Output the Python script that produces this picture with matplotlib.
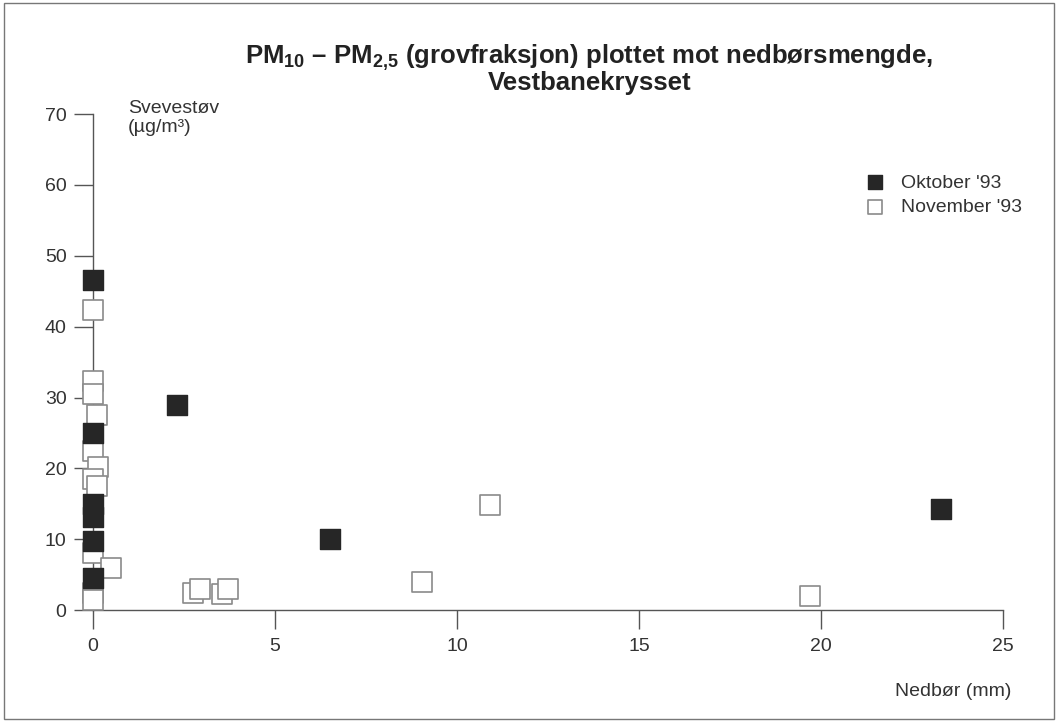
"""Grovfraksjon (PM10 - PM2,5) mot nedbørsmengde, Vestbanekrysset."""

import matplotlib
matplotlib.use("Agg")
import matplotlib.pyplot as plt
from matplotlib.patches import Rectangle

plt.rcParams["font.family"] = ["Liberation Sans", "DejaVu Sans"]
plt.rcParams["mathtext.fontset"] = "custom"
plt.rcParams["mathtext.rm"] = "Liberation Sans"
plt.rcParams["mathtext.bf"] = "Liberation Sans:bold"
plt.rcParams["mathtext.default"] = "regular"

# ---------------------------------------------------------------------------
# Data
# ---------------------------------------------------------------------------
okt_nedbor = [0.0, 2.3, 0.0, 0.0, 0.0, 0.0, 6.5, 0.0, 23.3]
okt_stov   = [46.6, 29.0, 25.0, 15.0, 13.2, 9.8, 10.0, 4.5, 14.2]

nov_nedbor = [0.0, 0.0, 0.0, 0.1, 0.0, 0.15, 0.0, 0.1, 0.0, 0.5, 0.0, 0.0,
              2.75, 2.95, 3.55, 3.7, 9.05, 10.9, 19.7]
nov_stov   = [42.4, 32.3, 30.5, 27.6, 22.5, 20.2, 18.5, 17.5, 8.1, 5.9, 2.4, 1.4,
              2.4, 3.0, 2.3, 3.0, 3.9, 14.8, 2.0]

x_ticks = [0, 5, 10, 15, 20, 25]
y_ticks = [0, 10, 20, 30, 40, 50, 60, 70]

AX_COL = "#555555"
TXT_COL = "#333333"

fig = plt.figure(figsize=(10.58, 7.22), dpi=100)
ax = fig.add_axes([0.0879, 0.155, 0.860, 0.687])

ax.scatter(nov_nedbor, nov_stov, marker="s", s=200, facecolor="white",
           edgecolor="#8a8a8a", linewidth=1.2, zorder=3, label="November '93")
ax.scatter(okt_nedbor, okt_stov, marker="s", s=200, facecolor="#262626",
           edgecolor="#262626", linewidth=1.0, zorder=4, label="Oktober '93")

ax.set_xlim(0, 25)
ax.set_ylim(0, 70)
ax.set_xticks(x_ticks)
ax.set_yticks(y_ticks)
for c in ax.collections:
    c.set_clip_on(False)

for side in ("top", "right"):
    ax.spines[side].set_visible(False)
for side in ("left", "bottom"):
    ax.spines[side].set_color(AX_COL)
    ax.spines[side].set_linewidth(1.0)
ax.tick_params(axis="both", colors=AX_COL, labelcolor=TXT_COL, labelsize=14,
               length=14, width=1.0)
ax.tick_params(axis="x", pad=6)
ax.tick_params(axis="y", pad=5)

# legend: Oktober first
handles, labels = ax.get_legend_handles_labels()
ax.legend(handles[::-1], labels[::-1], loc="upper left",
          bbox_to_anchor=(0.83, 0.895), frameon=False, fontsize=14,
          handletextpad=0.3, labelspacing=0.35, markerscale=0.75,
          labelcolor=TXT_COL, borderaxespad=0)

fig.text(0.121, 0.862, "Svevestøv\n(µg/m³)", fontsize=14, color=TXT_COL,
         va="top", ha="left", linespacing=1.15)
fig.text(0.956, 0.031, "Nedbør (mm)", fontsize=14, color=TXT_COL,
         ha="right", va="bottom")

fig.text(0.557, 0.905,
         r"PM$_{10}$ – PM$_{2{,}5}$ (grovfraksjon) plottet mot nedbørsmengde," "\nVestbanekrysset",
         fontsize=18.5, fontweight="bold", ha="center", va="center",
         color="#222222", linespacing=0.9)

# border around the whole figure
fig.add_artist(Rectangle((0.004, 0.004), 0.992, 0.992, transform=fig.transFigure,
                         fill=False, edgecolor="#777777", linewidth=1.0))

fig.savefig("out.png", dpi=100)
